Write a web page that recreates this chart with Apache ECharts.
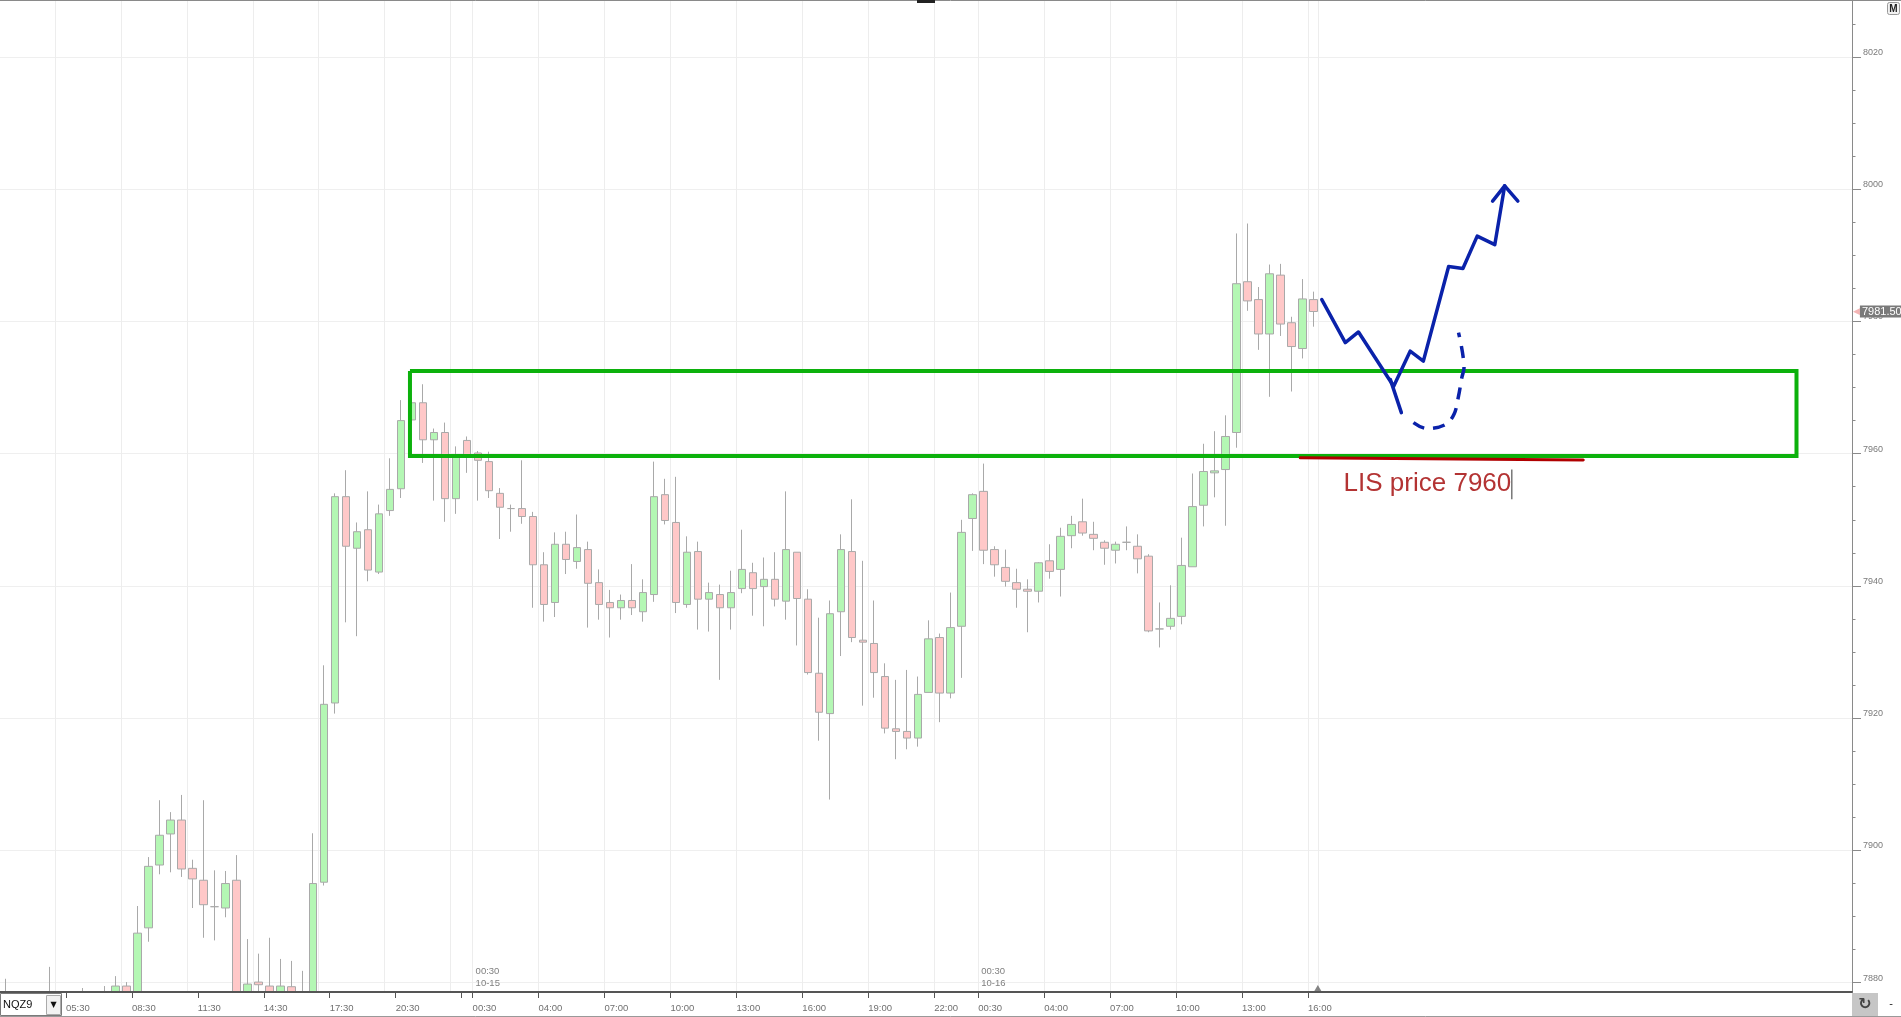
<!DOCTYPE html>
<html>
<head>
<meta charset="utf-8">
<script src="https://cdn.jsdelivr.net/npm/echarts@6/dist/echarts.min.js"></script>
<style>
  html, body { margin: 0; padding: 0; background: #fff; }
  #chart { width: 1901px; height: 1017px; }
</style>
</head>
<body>
<div id="chart"></div>
<script>
// NQZ9, 30 min bars. bar number 0 = the 05:30 bar, first entry is bar -6
const firstBar = -6
// null = bar not visible in the picture (all of it under 7878)
const opens = [
  7876, null, null, null, 7874, null, null, 7876, null, 7875,               // -6 .. 3
  7876, 7879.5, 7877, 7888.3, 7897.8, 7902.5, 7904.6, 7897.3, 7895.5, 7891.5, // 4 .. 13
  7891.3, 7895.5, 7876, 7880.1, 7879.5, 7877, 7879.4, 7877, 7876, 7895.2,     // 14 .. 23
  7922.3, 7953.5, 7945.7, 7948.5, 7942.1, 7951.4, 7954.7, 7965.1, 7967.7, 7962.1, // 24 .. 33
  7963.2, 7953.2, 7962.0, 7960.1, 7958.8, 7954.0, 7951.7, 7951.7, 7950.5, 7943.2, // 34 .. 43
  7937.5, 7946.3, 7943.7, 7945.5, 7940.5, 7937.5, 7936.7, 7937.8, 7936.1, 7938.7, // 44 .. 53
  7953.8, 7949.6, 7937.2, 7945.2, 7938.0, 7938.7, 7936.7, 7939.6, 7942.0, 7939.9, // 54 .. 63
  7941.0, 7937.7, 7945.1, 7938.0, 7926.8, 7920.7, 7936.1, 7945.2, 7931.8, 7931.3, // 64 .. 73
  7926.3, 7918.4, 7918.0, 7917.0, 7923.9, 7932.2, 7923.8, 7933.9, 7950.2, 7954.3, // 74 .. 83
  7945.5, 7942.8, 7940.5, 7939.5, 7939.2, 7943.8, 7942.5, 7947.6, 7949.7, 7947.8, // 84 .. 93
  7946.6, 7945.4, 7946.6, 7946.0, 7944.5, 7933.5, 7933.9, 7935.4, 7942.9, 7952.2, // 94 .. 103
  7957.1, 7957.6, 7963.2, 7986.0, 7983.3, 7978.1, 7987.0, 7979.8, 7975.9, 7983.3  // 104 .. 113
]
const closes = [
  7875, null, null, null, 7876, null, null, 7875, null, 7876,
  7879.5, 7876, 7887.5, 7897.6, 7902.3, 7904.6, 7897.2, 7895.7, 7891.8, 7891.5,
  7895.0, 7877, 7879.8, 7879.7, 7877, 7879.5, 7876, 7875, 7895.0, 7922.1,
  7953.5, 7946.0, 7948.2, 7942.4, 7950.9, 7954.6, 7965.0, 7967.7, 7962.1, 7963.2,
  7953.2, 7959.6, 7959.6, 7959.0, 7954.4, 7951.9, 7951.7, 7950.5, 7943.2, 7937.2,
  7946.3, 7944.0, 7945.8, 7940.4, 7937.2, 7936.7, 7937.8, 7936.7, 7939.0, 7953.5,
  7949.9, 7937.5, 7945.1, 7938.0, 7939.0, 7936.7, 7939.0, 7942.5, 7939.6, 7941.0,
  7938.0, 7945.5, 7938.1, 7926.9, 7920.9, 7935.8, 7945.5, 7932.2, 7931.5, 7926.9,
  7918.5, 7918.0, 7917.0, 7923.6, 7932.0, 7923.8, 7933.7, 7948.1, 7953.8, 7945.4,
  7943.2, 7940.7, 7939.5, 7939.2, 7943.5, 7942.2, 7947.5, 7949.3, 7948.0, 7947.2,
  7945.7, 7946.3, 7946.6, 7944.1, 7933.2, 7933.5, 7935.1, 7943.1, 7952.0, 7957.3,
  7957.4, 7962.6, 7985.7, 7983.1, 7978.1, 7987.2, 7979.6, 7976.2, 7983.4, 7981.5
]
const lows = [
  7873, null, null, null, 7872, null, null, 7873, null, 7873,
  7874, 7874, 7875, 7886.2, 7896.4, 7896.7, 7896.0, 7891.3, 7886.8, 7886.4,
  7889.9, 7875, 7875, 7877, 7875, 7875, 7874, 7874, 7874, 7894.7,
  7920.7, 7934.5, 7932.4, 7940.7, 7941.8, 7950.6, 7953.3, 7964.5, 7958.6, 7952.9,
  7949.7, 7950.9, 7957.1, 7952.9, 7953.3, 7947.1, 7948.2, 7949.4, 7936.7, 7934.6,
  7935.3, 7941.8, 7942.6, 7933.7, 7934.9, 7932.2, 7934.9, 7935.6, 7934.6, 7937.6,
  7949.3, 7935.9, 7936.7, 7933.4, 7933.1, 7925.8, 7933.4, 7938.9, 7935.5, 7933.9,
  7936.9, 7934.9, 7931.0, 7926.6, 7916.6, 7907.7, 7929.4, 7931.5, 7921.9, 7923.1,
  7917.7, 7913.8, 7915.3, 7915.7, 7923.9, 7919.4, 7923.0, 7926.1, 7945.3, 7943.3,
  7941.4, 7939.9, 7936.7, 7933.0, 7937.5, 7941.1, 7938.4, 7945.7, 7947.6, 7945.4,
  7943.2, 7943.4, 7945.4, 7941.9, 7933.0, 7930.7, 7933.4, 7934.2, 7942.9, 7949.0,
  7953.4, 7949.1, 7960.9, 7981.6, 7975.7, 7968.6, 7977.8, 7969.4, 7974.4, 7979.2
]
const highs = [
  7880.6, null, null, null, 7882.4, null, null, 7879.2, null, 7879.5,
  7881.0, 7880.1, 7891.6, 7899.0, 7907.6, 7905.8, 7908.4, 7898.6, 7907.6, 7897.0,
  7896.9, 7899.3, 7886.6, 7884.4, 7886.8, 7883.6, 7883.3, 7881.8, 7902.6, 7928.0,
  7954.0, 7957.5, 7949.6, 7954.3, 7952.3, 7959.3, 7968.1, 7968.5, 7970.5, 7963.8,
  7964.7, 7961.1, 7962.6, 7960.4, 7960.3, 7954.8, 7952.3, 7959.0, 7951.2, 7945.1,
  7948.1, 7948.2, 7950.8, 7946.7, 7942.5, 7939.4, 7938.7, 7943.3, 7941.0, 7958.8,
  7956.2, 7956.5, 7947.5, 7946.7, 7940.5, 7940.2, 7942.3, 7948.5, 7943.5, 7944.3,
  7945.1, 7954.3, 7945.1, 7939.5, 7935.2, 7937.8, 7947.8, 7953.1, 7943.8, 7937.8,
  7928.3, 7925.8, 7927.3, 7926.3, 7934.8, 7932.8, 7939.0, 7950.0, 7954.0, 7958.5,
  7946.0, 7945.5, 7942.6, 7941.0, 7943.6, 7946.3, 7948.8, 7950.6, 7953.2, 7949.7,
  7946.9, 7946.7, 7949.0, 7947.8, 7944.8, 7937.5, 7940.1, 7947.3, 7957.0, 7961.5,
  7963.4, 7965.8, 7993.3, 7994.8, 7985.2, 7988.6, 7988.7, 7980.7, 7986.4, 7984.5
]
const lastPrice = 7981.5

// time axis: ticks sit on the left edge of a bar
const xTickIdx = [0, 6, 12, 18, 24, 30, 37, 43, 49, 55, 61, 67, 73, 79, 83, 89, 95, 101, 107, 113]
const xTickText = ['05:30', '08:30', '11:30', '14:30', '17:30', '20:30', '00:30', '04:00', '07:00', '10:00',
  '13:00', '16:00', '19:00', '22:00', '00:30', '04:00', '07:00', '10:00', '13:00', '16:00']
const xMinorTick = [36]
const dayIdx = [37, 83]
const dayText = ['00:30\n10-15', '00:30\n10-16']
const gridX = [-1, 5, 11, 17, 23, 29, 35, 37, 43, 49, 55, 61, 67, 73, 79, 83, 89, 95, 101, 107, 113, 113.9]
const xMin = -6
const xMax = 162.5

const yTicks = [7880, 7900, 7920, 7940, 7960, 7980, 8000, 8020]
const yMinor = []
for (let v = 7880; v <= 8025; v += 5) yMinor.push(v)
const yMin = 7878.6
const yMax = 8028.6

// drawings on the chart (bar number, price)
const boxX = [31.3, 157.45, 157.45, 31.3, 31.3]
const boxY = [7972.5, 7972.5, 7959.65, 7959.65, 7972.5]
const lisX = [112.3, 138.05]
const lisY = [7959.4, 7959.05]
const lisText = 'LIS price 7960'
const lisAt = [116.2, 7955.4]
const caretX = [131.55, 131.55]
const caretY = [7957.6, 7953.1]
const pathX = [114.26, 116.4, 117.6, 120.8, 122.3, 123.5, 125.8, 127.1, 128.4, 130.0, 130.9]
const pathY = [7983.3, 7976.8, 7978.4, 7970.2, 7975.5, 7974.0, 7988.3, 7988.0, 7992.9, 7991.6, 8000.5]
const headX = [129.8, 130.9, 132.1]
const headY = [7998.2, 8000.5, 7998.2]
const dipX = [120.5, 121.5]
const dipY = [7971.2, 7966.2]
const dashX = [122.6, 123.8, 125.5, 126.3, 126.7, 127.0, 127.2, 126.7]
const dashY = [7964.7, 7963.8, 7964.4, 7966.0, 7968.7, 7971.5, 7973.0, 7978.3]
const nowBar = 113.9

const FONT = '"Liberation Sans", Arial, sans-serif'
const BLUE = '#0a22aa'

const candles = []
opens.forEach((o, i) => {
  if (o == null) return
  candles.push([firstBar + i + 0.5, o, closes[i], lows[i], highs[i]])
})
const pairs = (xs, ys) => xs.map((x, i) => [x, ys[i]])
const tickName = {}
xTickIdx.forEach((v, i) => { tickName[v] = xTickText[i] })
const dayName = {}
dayIdx.forEach((v, i) => { dayName[v] = dayText[i] })

const drawLine = (data, extra) => Object.assign({
  type: 'line',
  data: data,
  symbol: 'none',
  silent: true,
  z: 5,
  lineStyle: { color: BLUE, width: 3.5, cap: 'round', join: 'round' }
}, extra)

const chart = echarts.init(document.getElementById('chart'))
chart.setOption({
  animation: false,
  backgroundColor: '#fff',
  grid: { left: 0, right: 49, top: 0, bottom: 25 },
  xAxis: [{
    type: 'value',
    min: xMin,
    max: xMax,
    z: 10,
    axisLine: { onZero: false, lineStyle: { color: '#555', width: 2 } },
    axisTick: { length: 6, customValues: xTickIdx.concat(xMinorTick), lineStyle: { color: '#555' } },
    axisLabel: {
      customValues: xTickIdx,
      formatter: v => tickName[v] || '',
      align: 'left',
      margin: 11,
      color: '#707070',
      fontSize: 9.5,
      fontFamily: FONT
    },
    splitLine: { show: false }
  }, {
    type: 'value',
    min: xMin,
    max: xMax,
    position: 'bottom',
    offset: 0,
    axisLine: { show: false, onZero: false },
    axisTick: { show: false },
    splitLine: { show: false },
    axisLabel: {
      inside: true,
      customValues: dayIdx,
      formatter: v => dayName[v] || '',
      align: 'left',
      margin: 3,
      padding: [0, 0, 0, 3],
      color: '#808080',
      fontSize: 9.5,
      lineHeight: 11.5,
      fontFamily: FONT
    }
  }],
  yAxis: [{
    type: 'value',
    position: 'right',
    min: yMin,
    max: yMax,
    splitNumber: 7,
    axisLine: { show: true, onZero: false, lineStyle: { color: '#8a8a8a' } },
    axisTick: { show: true, length: 9, customValues: yTicks, lineStyle: { color: '#8a8a8a' } },
    axisLabel: {
      customValues: yTicks,
      formatter: v => String(v),
      margin: 11,
      verticalAlign: 'bottom',
      color: '#7a7a7a',
      fontSize: 9,
      fontFamily: FONT
    },
    splitLine: { show: true, lineStyle: { color: '#efefef' } }
  }, {
    type: 'value',
    position: 'right',
    offset: 0,
    min: yMin,
    max: yMax,
    axisLine: { show: false, onZero: false },
    axisTick: { show: true, length: 3.5, customValues: yMinor, lineStyle: { color: '#8a8a8a' } },
    axisLabel: { show: false },
    splitLine: { show: false }
  }],
  series: [{
    type: 'candlestick',
    data: candles,
    encode: { x: 0, y: [1, 2, 3, 4] },
    barWidth: 8,
    clip: true,
    z: 2,
    itemStyle: {
      color: '#b4f7b4',
      color0: '#ffc8c8',
      borderColor: '#a9a9a9',
      borderColor0: '#a9a9a9',
      borderColorDoji: '#a9a9a9',
      borderWidth: 1
    },
    markLine: {
      z: 1,
      silent: true,
      symbol: 'none',
      label: { show: false },
      lineStyle: { color: '#ededed', width: 1, type: 'solid' },
      data: gridX.map(v => ({ xAxis: v }))
    }
  },
  drawLine(pairs(boxX, boxY), { z: 3, lineStyle: { color: '#0cb10c', width: 4, join: 'miter' } }),
  drawLine(pairs(lisX, lisY), { z: 4, lineStyle: { color: '#b00000', width: 3, cap: 'round' } }),
  drawLine(pairs(caretX, caretY), { z: 6, lineStyle: { color: '#555', width: 1.2 } }),
  drawLine(pairs(pathX, pathY)),
  drawLine(pairs(headX, headY)),
  drawLine(pairs(dipX, dipY)),
  drawLine(pairs(dashX, dashY), { smooth: 0.35, lineStyle: { color: BLUE, width: 3.5, type: [12, 9], cap: 'butt' } }),
  {
    type: 'scatter',
    data: [lisAt],
    symbolSize: 1,
    silent: true,
    z: 6,
    itemStyle: { color: 'rgba(0,0,0,0)' },
    label: {
      show: true,
      position: 'right',
      distance: 0,
      formatter: lisText,
      color: '#a00000',
      fontSize: 26,
      fontFamily: FONT
    }
  },
  {
    type: 'scatter',
    data: [[nowBar, yMin]],
    symbol: 'triangle',
    symbolSize: [7, 6],
    symbolOffset: [0, -4],
    clip: false,
    silent: true,
    z: 10,
    itemStyle: { color: '#666' }
  },
  {
    type: 'line',
    data: [[xMax, lastPrice]],
    symbol: 'none',
    clip: false,
    silent: true,
    z: 10,
    lineStyle: { width: 0 },
    markLine: {
      silent: true,
      symbol: 'none',
      lineStyle: { color: 'rgba(255,255,255,0)', width: 1 },
      label: {
        show: true,
        position: 'end',
        distance: 1,
        formatter: '{t|◀}{v|' + lastPrice.toFixed(2) + '}',
        rich: {
          t: { color: '#f4b4b4', fontSize: 9, fontFamily: '"DejaVu Sans"' },
          v: { color: '#fff', backgroundColor: '#7a7a7a', fontSize: 11, fontFamily: FONT, padding: [1, 4, 0, 2] }
        }
      },
      data: [{ yAxis: lastPrice }]
    }
  }],
  graphic: [
    // white strip under the time axis hides candle parts below the plot
    { type: 'rect', z: 3, shape: { x: 0, y: 993, width: 1852, height: 23 }, style: { fill: '#fff' } },
    { type: 'line', z: 11, shape: { x1: 0, y1: 0.5, x2: 1901, y2: 0.5 }, style: { stroke: '#8a8a8a', lineWidth: 1 } },
    { type: 'rect', z: 11, shape: { x: 917, y: 0, width: 18, height: 3 }, style: { fill: '#222' } },
    { type: 'rect', z: 11, shape: { x: 1887.5, y: 2.5, width: 12, height: 12, r: 2 }, style: { fill: '#f2f2f2', stroke: '#999' } },
    { type: 'text', z: 11, x: 1893.5, y: 9, style: { text: 'M', font: 'bold 10px ' + FONT, fill: '#222', align: 'center', verticalAlign: 'middle' } },
    { type: 'line', z: 11, shape: { x1: 0, y1: 1016.5, x2: 1901, y2: 1016.5 }, style: { stroke: '#999', lineWidth: 1 } },
    { type: 'rect', z: 11, shape: { x: 0.5, y: 993.5, width: 61, height: 22 }, style: { fill: '#fff', stroke: '#7a7a7a' } },
    { type: 'text', z: 11, x: 3, y: 1005, style: { text: 'NQZ9', font: '11px ' + FONT, fill: '#111', verticalAlign: 'middle' } },
    { type: 'rect', z: 11, shape: { x: 46.5, y: 995.5, width: 14, height: 19 }, style: { fill: '#f2f2f2', stroke: '#aaa' } },
    { type: 'text', z: 11, x: 53.5, y: 1005, style: { text: '▼', font: '8px "DejaVu Sans"', fill: '#111', align: 'center', verticalAlign: 'middle' } },
    { type: 'rect', z: 11, shape: { x: 1852, y: 993, width: 26, height: 23 }, style: { fill: '#c6c6c6' } },
    { type: 'text', z: 11, x: 1865, y: 1005, style: { text: '↻', font: 'bold 16px "DejaVu Sans"', fill: '#444', align: 'center', verticalAlign: 'middle' } },
    { type: 'text', z: 11, x: 1891, y: 1004, style: { text: '-', font: '11px ' + FONT, fill: '#222', align: 'center', verticalAlign: 'middle' } }
  ]
})
</script>
</body>
</html>
